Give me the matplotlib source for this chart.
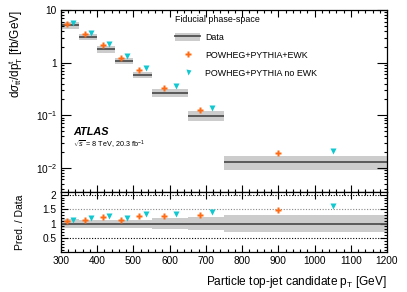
import numpy as np
import matplotlib
matplotlib.use('Agg')
import matplotlib.pyplot as plt
from matplotlib.patches import Patch
from matplotlib.lines import Line2D
from matplotlib.ticker import MultipleLocator, LogLocator, FixedLocator, NullFormatter, FixedFormatter

# ---------------- data ----------------
bin_edges = [300, 350, 400, 450, 500, 550, 650, 750, 1200]
data = [5.1, 3.08, 1.80, 1.09, 0.58, 0.267, 0.098, 0.0128]
data_rel_unc = [0.15, 0.14, 0.14, 0.14, 0.14, 0.18, 0.22, 0.30]
pred_ewk = [5.51, 3.48, 2.18, 1.23, 0.731, 0.334, 0.126, 0.0188]
pred_noewk = [5.76, 3.67, 2.30, 1.31, 0.777, 0.355, 0.138, 0.0205]

legend_title = 'Fiducial phase-space'
labels = ['Data', 'POWHEG+PYTHIA+EWK', 'POWHEG+PYTHIA no EWK']

plt.rcParams['font.family'] = ['Liberation Sans', 'DejaVu Sans']
plt.rcParams['mathtext.fontset'] = 'custom'
plt.rcParams['mathtext.rm'] = 'Liberation Sans'
plt.rcParams['mathtext.it'] = 'Liberation Sans:italic'
plt.rcParams['mathtext.bf'] = 'Liberation Sans:bold'

c_band = '#cccccc'
c_line = '#505050'
c_ewk = '#ff6a13'
c_noewk = '#10c8d0'

edges = np.array(bin_edges, dtype=float)
lo = edges[:-1]
hi = edges[1:]
w = hi - lo
d = np.array(data)
u = np.array(data_rel_unc)
pe = np.array(pred_ewk)
pn = np.array(pred_noewk)
x_ewk = lo + w / 3.0
x_noewk = lo + 2.0 * w / 3.0

W, H = 407, 292
fig = plt.figure(figsize=(W / 100, H / 100), dpi=100)
L = 61 / W
R = 387 / W
top_main = 1 - 10 / H
bot_main = 1 - 192 / H
bot_ratio = 1 - 251.7 / H
ax = fig.add_axes([L, bot_main, R - L, top_main - bot_main])
axr = fig.add_axes([L, bot_ratio, R - L, bot_main - bot_ratio], sharex=ax)

# ---------------- main panel ----------------
ax.set_yscale('log')
ax.bar(lo, 2 * u * d, bottom=d * (1 - u), width=w, align='edge', color=c_band, lw=0, zorder=1)
ax.hlines(d, lo, hi, color=c_line, lw=1.3, zorder=2)
ax.plot(x_ewk, pe, ls='none', marker='P', ms=4.2, color=c_ewk, mec='none', zorder=3)
ax.plot(x_noewk, pn, ls='none', marker='v', ms=4.0, color=c_noewk, mec='none', zorder=3)
ax.set_xlim(300, 1200)
ax.set_ylim(10 ** -2.46, 10)

ax.yaxis.set_major_locator(FixedLocator([0.01, 0.1, 1, 10]))
ax.yaxis.set_major_formatter(FixedFormatter([r'10$^{-2}$', r'10$^{-1}$', '1', '10']))
ax.yaxis.set_minor_locator(LogLocator(base=10, subs=np.arange(2, 10), numticks=20))
ax.yaxis.set_minor_formatter(NullFormatter())
ax.xaxis.set_major_locator(MultipleLocator(100))
ax.xaxis.set_minor_locator(MultipleLocator(20))
ax.tick_params(which='both', direction='in', top=True, right=True, labelbottom=False,
               labelsize=7.3, width=0.8)
ax.tick_params(which='major', length=5)
ax.tick_params(which='minor', length=2.5)
ax.tick_params(axis='y', which='major', length=7, pad=3)
ax.set_ylabel(r'd$\sigma_{\mathrm{t\bar{t}}}$/dp$^{\mathrm{t}}_{\mathrm{T}}$ [fb/GeV]',
              fontsize=8.5, loc='top', labelpad=6)

handles = [(Patch(fc=c_band, ec='none'), Line2D([], [], color=c_line, lw=1.3)),
           Line2D([], [], marker='P', ls='none', ms=3.8, color=c_ewk, mec='none'),
           Line2D([], [], marker='v', ls='none', ms=3.6, color=c_noewk, mec='none')]
leg = ax.legend(handles, labels, title=legend_title, loc='upper left',
                bbox_to_anchor=(0.35, 0.972), frameon=False, fontsize=6.4,
                title_fontsize=6.4, handlelength=2.8, handleheight=1.15,
                handletextpad=0.55, labelspacing=0.95, borderpad=0, borderaxespad=0,
                alignment='left')

ax.text(0.038, 0.331, 'ATLAS', transform=ax.transAxes, fontsize=7.8,
        fontweight='bold', fontstyle='italic', va='center', ha='left')
ax.text(0.038, 0.258, r'$\sqrt{s}$ = 8 TeV, 20.3 fb$^{-1}$', transform=ax.transAxes,
        fontsize=5.2, va='center', ha='left')

# ---------------- ratio panel ----------------
axr.bar(lo, 2 * u, bottom=1 - u, width=w, align='edge', color=c_band, lw=0, zorder=1)
axr.hlines(1, 300, 1200, color=c_line, lw=1.3, zorder=2)
for yv, cc in [(0.5, 'black'), (1.5, '#888888'), (2.0, 'black')]:
    axr.axhline(yv, ls=(0, (1, 1.5)), lw=0.8, color=cc, zorder=1.5)
axr.plot(x_ewk, pe / d, ls='none', marker='P', ms=4.2, color=c_ewk, mec='none', zorder=3)
axr.plot(x_noewk, pn / d, ls='none', marker='v', ms=4.0, color=c_noewk, mec='none', zorder=3)
axr.set_ylim(0.03, 2.09)
axr.yaxis.set_major_locator(FixedLocator([0.5, 1, 1.5, 2]))
axr.yaxis.set_major_formatter(FixedFormatter(['0.5', '1', '1.5', '2']))
axr.yaxis.set_minor_locator(MultipleLocator(0.1))
axr.tick_params(which='both', direction='in', top=True, right=True, labelsize=7.3, width=0.8)
axr.tick_params(which='major', length=5)
axr.tick_params(which='minor', length=2.5)
axr.tick_params(axis='x', which='major', pad=3)
axr.set_ylabel('Pred. / Data', fontsize=7.5, labelpad=6)
axr.set_xlabel(r'Particle top-jet candidate p$_{\mathrm{T}}$ [GeV]', fontsize=8.6,
               loc='right', labelpad=6)

for a in (ax, axr):
    for s in a.spines.values():
        s.set_linewidth(0.9)

ax.yaxis.set_label_coords(-0.11, 1.0)
axr.yaxis.set_label_coords(-0.11, 0.5)

fig.savefig('out.png', dpi=100)
